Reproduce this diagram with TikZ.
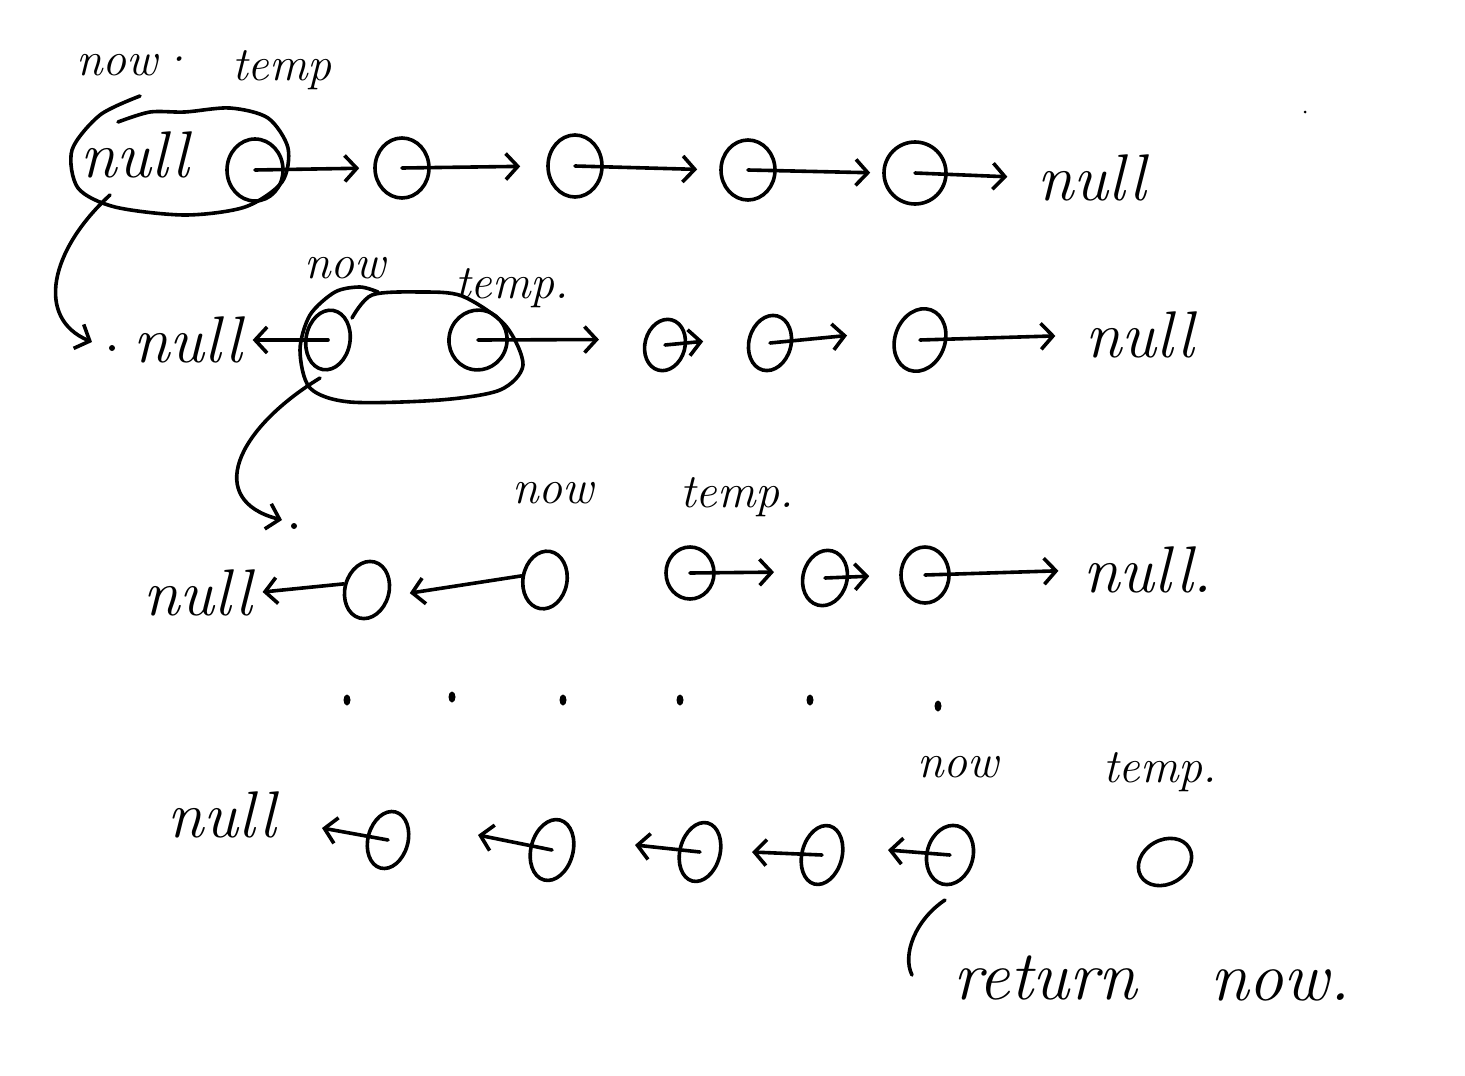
\documentclass[tikz,border=0pt]{standalone}
\usepackage{fontspec}
\usetikzlibrary{arrows.meta,shapes.geometric}
\tikzset{
  ink/.style={line width=3.6pt, line cap=round, line join=round, black},
  nd/.style={ink, draw, ellipse, inner sep=0pt},
  arr/.style={ink, -{Straight Barb[length=12pt,width=26pt]}},
  lbl/.style={font=\fontsize{48}{54}\selectfont\itshape, inner sep=0pt},
  nul/.style={font=\fontsize{66}{70}\selectfont\itshape, inner sep=0pt},
  big/.style={font=\fontsize{70}{76}\selectfont\itshape, inner sep=0pt},
  speck/.style={fill=black, ellipse, inner sep=0pt, minimum width=7pt, minimum height=11pt},
}
\begin{document}
\begin{tikzpicture}[x=1pt,y=-1pt]
\fill[white] (0,0) rectangle (1465,1076);
\useasboundingbox (0,0) rectangle (1465,1076);

% ---------- row 1 ----------
\node[lbl] (now1) at (135,65) {now·};
\node[lbl] (temp1) at (282,70) {temp};
\node[nul] (nullA) at (135,155) {null};
\node[nd, minimum width=56pt, minimum height=62pt] (A1) at (255,170) {};
\node[nd, minimum width=54pt, minimum height=60pt] (A2) at (402,168) {};
\node[nd, minimum width=54pt, minimum height=62pt] (A3) at (575,166) {};
\node[nd, minimum width=54pt, minimum height=60pt] (A4) at (748,170) {};
\node[nd, minimum width=62pt, minimum height=62pt] (A5) at (915,173) {};
\node[nul] (null1) at (1092,178) {null};
\draw[arr, shorten >=14pt] (A1.center) -- (A2.west);
\draw[arr, shorten >=26pt] (A2.center) -- (A3.west);
\draw[arr, shorten >=22pt] (A3.center) -- (A4.west);
\draw[arr, shorten >=12pt] (A4.center) -- (A5.west);
\draw[arr, shorten >=30pt] (A5.center) -- (null1.west);
\draw[ink] plot[smooth] coordinates {(140,96) (100,115) (72,150) (78,188) (115,207) (185,215) (245,207) (282,182) (288,148) (268,118) (230,108) (185,112) (150,112) (118,122)};
\coordinate (b1out) at (110,195);
\coordinate (hk1) at (92,342);
\draw[arr] (b1out) .. controls (50,250) and (35,318) .. (hk1);
\node[speck, minimum width=6pt, minimum height=6pt] (dt1) at (112,348) {};

% ---------- row 2 ----------
\node[lbl] (nowB) at (345,268) {now};
\node[lbl] (tempB) at (512,288) {temp.};
\node[nul] (nullB) at (188,340) {null};
\node[nd, rotate=-10, minimum width=44pt, minimum height=60pt] (B1) at (328,340) {};
\node[nd, rotate=-15, minimum width=58pt, minimum height=60pt] (B2) at (478,340) {};
\node[nd, rotate=-15, minimum width=40pt, minimum height=52pt] (B3) at (665,345) {};
\node[nd, rotate=-15, minimum width=42pt, minimum height=56pt] (B4) at (770,343) {};
\node[nd, rotate=-20, minimum width=50pt, minimum height=64pt] (B5) at (920,340) {};
\node[nul] (null2) at (1140,335) {null};
\draw[arr, shorten >=10pt] (B1.center) -- (nullB.east);
\draw[arr, shorten >=45pt] (B2.center) -- (B3.west);
\draw[arr, shorten >=45pt] (B3.center) -- (B4.west);
\draw[arr, shorten >=48pt] (B4.center) -- (B5.west);
\draw[arr, shorten >=30pt] (B5.center) -- (null2.west);
\draw[ink] plot[smooth] coordinates {(352,318) (372,295) (420,292) (462,296) (505,325) (523,365) (500,390) (440,400) (350,402) (310,388) (300,350) (310,315) (335,292) (360,287) (378,292)};
\coordinate (b2out) at (320,378);
\coordinate (hk2) at (282,520);
\draw[arr] (b2out) .. controls (235,430) and (205,500) .. (hk2);
\node[speck, minimum width=6pt, minimum height=6pt] (dt2) at (294,526) {};

% ---------- row 3 ----------
\node[lbl] (nowC) at (553,493) {now};
\node[lbl] (tempC) at (737,497) {temp.};
\node[nul] (nullC) at (198,593) {null};
\node[nd, rotate=-15, minimum width=44pt, minimum height=58pt] (C1) at (367,590) {};
\node[nd, rotate=-10, minimum width=44pt, minimum height=58pt] (C2) at (545,580) {};
\node[nd, minimum width=48pt, minimum height=52pt] (C3) at (690,573) {};
\node[nd, rotate=-15, minimum width=44pt, minimum height=56pt] (C4) at (825,578) {};
\node[nd, minimum width=48pt, minimum height=56pt] (C5) at (925,575) {};
\node[nul] (null3) at (1148,570) {null.};
\draw[arr, shorten >=10pt] (C1.west) -- (nullC.east);
\draw[arr, shorten >=20pt] (C2.west) -- (C1.east);
\draw[arr, shorten >=28pt] (C3.center) -- (C4.west);
\draw[arr, shorten >=30pt] (C4.center) -- (C5.west);
\draw[arr, shorten >=25pt] (C5.center) -- (null3.west);

% ---------- dots ----------
\node[speck] (d1) at (347,700) {};
\node[speck] (d2) at (452,697) {};
\node[speck] (d3) at (563,700) {};
\node[speck] (d4) at (680,700) {};
\node[speck] (d5) at (810,700) {};
\node[speck] (d6) at (938,706) {};

% ---------- row 4 ----------
\node[nul] (null4) at (222,815) {null};
\node[lbl] (nowD) at (958,767) {now};
\node[lbl] (tempD) at (1160,772) {temp.};
\node[nd, rotate=-15, minimum width=40pt, minimum height=58pt] (D1) at (388,840) {};
\node[nd, rotate=-15, minimum width=42pt, minimum height=62pt] (D2) at (552,850) {};
\node[nd, rotate=-15, minimum width=40pt, minimum height=60pt] (D3) at (700,852) {};
\node[nd, rotate=-15, minimum width=40pt, minimum height=60pt] (D4) at (822,855) {};
\node[nd, rotate=-15, minimum width=46pt, minimum height=60pt] (D5) at (950,855) {};
\node[nd, rotate=30, minimum width=56pt, minimum height=44pt] (D6) at (1165,862) {};
\coordinate (t1) at (322,828);
\coordinate (t2) at (478,835);
\coordinate (t3) at (635,845);
\coordinate (t4) at (752,852);
\coordinate (t5) at (888,850);
\draw[arr] (D1.center) -- (t1);
\draw[arr] (D2.center) -- (t2);
\draw[arr] (D3.center) -- (t3);
\draw[arr] (D4.center) -- (t4);
\draw[arr] (D5.center) -- (t5);
\coordinate (rs) at (945,900);
\coordinate (re) at (912,975);
\draw[ink] (rs) .. controls (915,920) and (902,955) .. (re);
\node[big] (ret) at (1045,978) {return};
\node[big] (nowE) at (1280,985) {now.};
\node[fill=black, circle, inner sep=0pt, minimum size=3pt] (sp) at (1305,112) {};
\end{tikzpicture}
\end{document}
